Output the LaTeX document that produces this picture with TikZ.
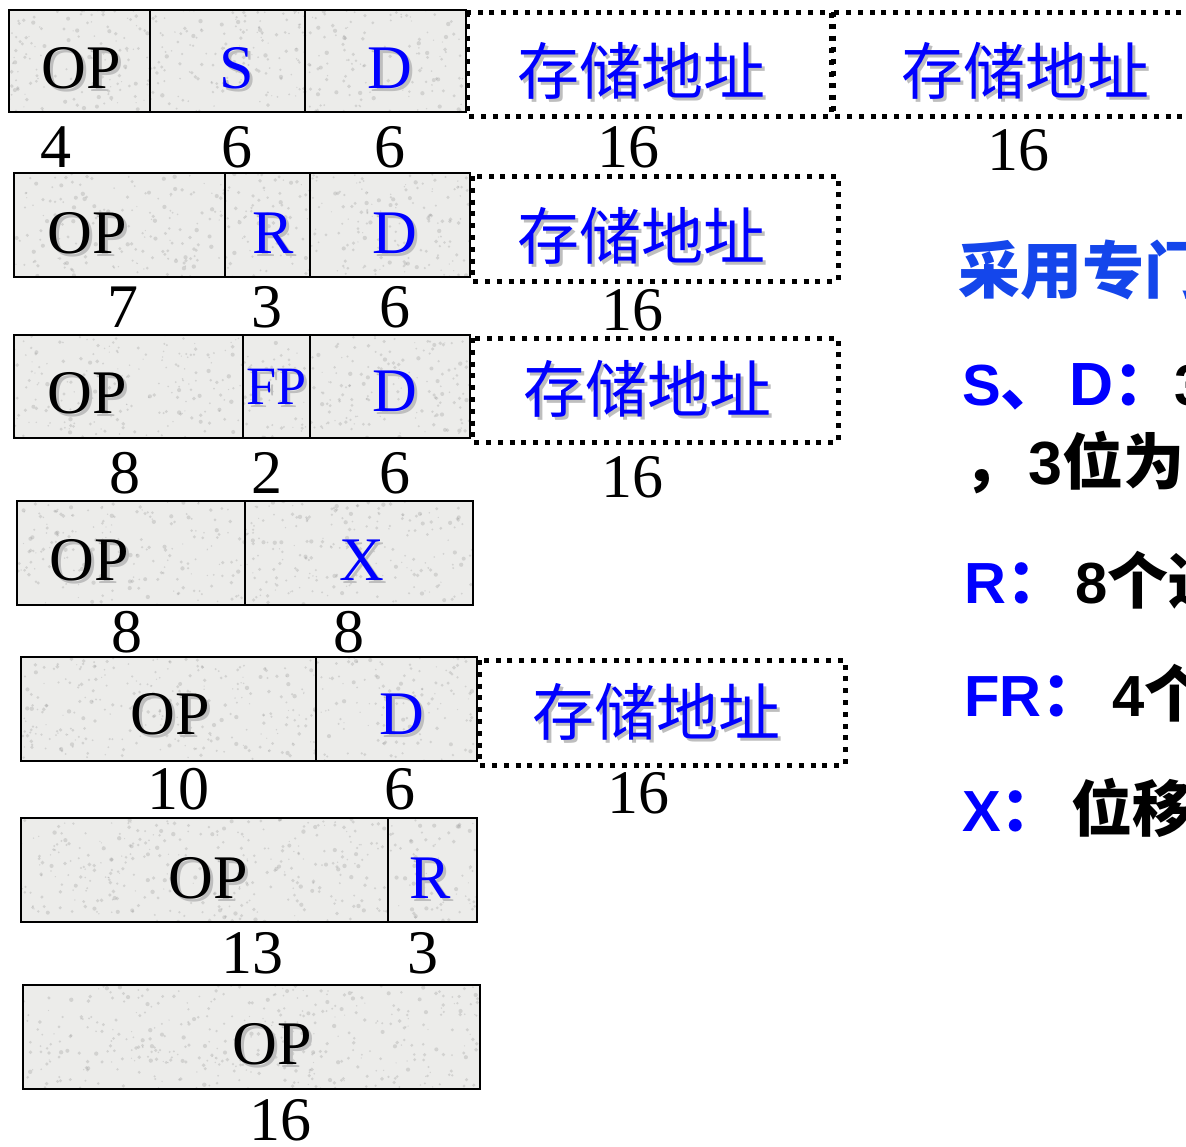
\documentclass[tikz,border=0pt]{standalone}
\usepackage{fontspec}
\setmainfont{Liberation Serif}
\setsansfont{Liberation Sans}
\newfontfamily\cjk{Noto Sans CJK SC}
\definecolor{boxbase}{RGB}{236,236,234}
\definecolor{speck}{RGB}{150,150,150}
\definecolor{shadowgray}{RGB}{190,190,190}
\definecolor{fieldblue}{RGB}{0,0,255}
\definecolor{notecyan}{RGB}{20,70,235}
\tikzset{
  field/.style={draw=black, line width=2pt},
  addr/.style={draw=black, line width=5pt, dash pattern=on 5pt off 6.8pt},
  optext/.style={font=\fontsize{62}{62}\selectfont, text=black, inner sep=0pt},
  fldtext/.style={font=\fontsize{62}{62}\selectfont, text=fieldblue, inner sep=0pt},
  numtext/.style={font=\fontsize{62}{62}\selectfont, text=black, inner sep=0pt},
  cntext/.style={font=\cjk\fontsize{62}{62}\selectfont, text=fieldblue, inner sep=0pt},
  note/.style={anchor=west, inner sep=0pt, text=black, font=\fontsize{58}{58}\selectfont\bfseries}
}
\newcommand{\bl}[1]{\textcolor{fieldblue}{#1}}
\newcommand{\shd}[1]{\leavevmode\rlap{\kern3pt\raisebox{-3pt}{\textcolor{shadowgray}{#1}}}#1}
\newcommand{\cjkbig}{\cjk\fontsize{61}{61}\selectfont}
\newcommand{\granite}[4]{%
  \begin{scope}
    \clip (#1,#2) rectangle (#3,#4);
    \fill[boxbase] (#1,#2) rectangle (#3,#4);
    \foreach \k in {1,...,420}{%
      \pgfmathsetmacro\px{#1+rnd*(#3-#1)}%
      \pgfmathsetmacro\py{#2+rnd*(#4-#2)}%
      \pgfmathsetmacro\rr{0.6+rnd*1.6}%
      \fill[speck, opacity=0.30] (\px,\py) circle[radius=\rr pt];
    }
  \end{scope}%
  \draw[field] (#1,#2) rectangle (#3,#4);}
\begin{document}
\begin{tikzpicture}[x=1pt,y=-1pt]
\pgfmathsetseed{11}
\useasboundingbox (0,0) rectangle (1186,1146);
\clip (0,0) rectangle (1186,1146);
\fill[white] (0,0) rectangle (1186,1146);
% ---------- row 1
\granite{9}{10}{466}{112}
\draw[black, line width=2pt] (150,10) -- (150,112) (305,10) -- (305,112);
\draw[addr] (467,12) rectangle (831,116);
\draw[addr] (833,12) rectangle (1210,116);
\node[optext] (r1op) at (81,70) {\shd{OP}};
\node[fldtext] (r1s) at (237,70) {\shd{S}};
\node[fldtext] (r1d) at (390,70) {\shd{D}};
\node[cntext] (r1a) at (641,72) {\shd{存储地址}};
\node[cntext] (r1b) at (1025,72) {\shd{存储地址}};
\node[numtext] (r1n1) at (56,147) {4};
\node[numtext] (r1n2) at (237,147) {6};
\node[numtext] (r1n3) at (390,147) {6};
\node[numtext] (r1n4) at (628,147) {16};
\node[numtext] (r1n5) at (1018,150) {16};
% ---------- row 2
\granite{14}{173}{470}{277}
\draw[black, line width=2pt] (225,173) -- (225,277) (310,173) -- (310,277);
\draw[addr] (472,176) rectangle (838,281);
\node[optext] (r2op) at (87,235) {\shd{OP}};
\node[fldtext] (r2r) at (273,235) {\shd{R}};
\node[fldtext] (r2d) at (395,235) {\shd{D}};
\node[cntext] (r2a) at (641,237) {\shd{存储地址}};
\node[numtext] (r2n1) at (123,307) {7};
\node[numtext] (r2n2) at (267,307) {3};
\node[numtext] (r2n3) at (395,307) {6};
\node[numtext] (r2n4) at (632,310) {16};
% ---------- row 3
\granite{14}{335}{470}{438}
\draw[black, line width=2pt] (243,335) -- (243,438) (310,335) -- (310,438);
\draw[addr] (472,338) rectangle (838,442);
\node[optext] (r3op) at (87,395) {\shd{OP}};
\node[fldtext, font=\fontsize{54}{54}\selectfont] (r3fp) at (277,388) {\shd{FP}};
\node[fldtext] (r3d) at (395,393) {\shd{D}};
\node[cntext] (r3a) at (647,390) {\shd{存储地址}};
\node[numtext] (r3n1) at (125,473) {8};
\node[numtext] (r3n2) at (267,473) {2};
\node[numtext] (r3n3) at (395,473) {6};
\node[numtext] (r3n4) at (632,477) {16};
% ---------- row 4
\granite{17}{501}{473}{605}
\draw[black, line width=2pt] (245,501) -- (245,605);
\node[optext] (r4op) at (89,562) {\shd{OP}};
\node[fldtext] (r4x) at (362,562) {\shd{X}};
\node[numtext] (r4n1) at (127,632) {8};
\node[numtext] (r4n2) at (349,632) {8};
% ---------- row 5
\granite{21}{657}{477}{761}
\draw[black, line width=2pt] (316,657) -- (316,761);
\draw[addr] (479,660) rectangle (845,765);
\node[optext] (r5op) at (170,716) {\shd{OP}};
\node[fldtext] (r5d) at (402,716) {\shd{D}};
\node[cntext] (r5a) at (656,713) {\shd{存储地址}};
\node[numtext] (r5n1) at (178,789) {10};
\node[numtext] (r5n2) at (400,789) {6};
\node[numtext] (r5n3) at (638,793) {16};
% ---------- row 6
\granite{21}{818}{477}{922}
\draw[black, line width=2pt] (388,818) -- (388,922);
\node[optext] (r6op) at (208,880) {\shd{OP}};
\node[fldtext] (r6r) at (430,880) {\shd{R}};
\node[numtext] (r6n1) at (252,953) {13};
\node[numtext] (r6n2) at (423,953) {3};
% ---------- row 7
\granite{23}{985}{480}{1089}
\node[optext] (r7op) at (272,1046) {\shd{OP}};
\node[numtext] (r7n1) at (280,1120) {16};
% ---------- notes on the right
\node[note, text=notecyan] (n1) at (958,270) {\cjk\fontsize{62}{62}\selectfont 采用专门};
\node[note] (n2) at (962,387) {\bl{\sffamily S\cjkbig 、\kern8pt\sffamily D\cjkbig ：}\sffamily 3};
\node[note] (n3) at (963,463) {\cjkbig ，\kern4pt\sffamily 3\cjkbig 位为};
\node[note] (n4) at (964,580) {\bl{\sffamily R\cjkbig ：}\kern8pt\sffamily 8\cjkbig 个通};
\node[note] (n5) at (964,693) {\bl{\sffamily FR\cjkbig ：}\kern10pt\sffamily 4\cjkbig 个};
\node[note] (n6) at (962,808) {\bl{\sffamily X\cjkbig ：}\kern10pt\cjkbig 位移};
\end{tikzpicture}
\end{document}
